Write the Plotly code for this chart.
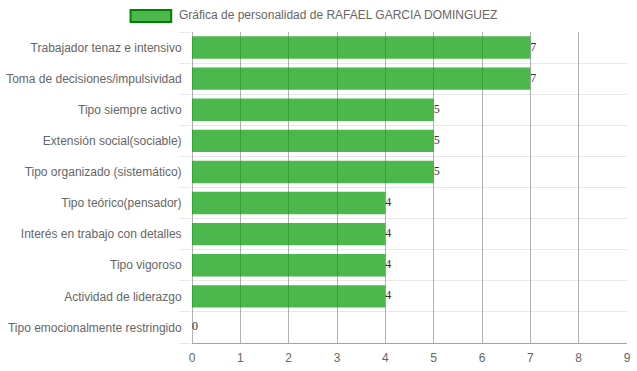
import plotly.graph_objects as go

categories = [
    "Trabajador tenaz e intensivo",
    "Toma de decisiones/impulsividad",
    "Tipo siempre activo",
    "Extensión social(sociable)",
    "Tipo organizado (sistemático)",
    "Tipo teórico(pensador)",
    "Interés en trabajo con detalles",
    "Tipo vigoroso",
    "Actividad de liderazgo",
    "Tipo emocionalmente restringido",
]
values = [7, 7, 5, 5, 5, 4, 4, 4, 4, 0]
x_ticks = [0, 1, 2, 3, 4, 5, 6, 7, 8, 9]
series_name = "Gráfica de personalidad de RAFAEL GARCIA DOMINGUEZ"

W, H = 637, 371
L, R, T, B = 192, 6, 32, 28
PW = W - L - R
PH = H - T - B

def px_x(p):
    return (p - L) / PW

def px_y(p):
    return (H - B - p) / PH

positions = list(range(len(categories)))

fig = go.Figure()
fig.add_trace(go.Bar(
    x=values, y=positions, orientation="h",
    width=0.72,
    marker=dict(color="rgba(0,152,0,0.7)", line=dict(width=0)),
    name=series_name, showlegend=False, hoverinfo="x+y",
))
fig.add_trace(go.Scatter(
    x=values, y=positions, mode="text",
    text=[str(v) for v in values],
    textposition="middle right",
    textfont=dict(family="Liberation Serif", size=12, color="#333333"),
    showlegend=False, hoverinfo="skip", cliponaxis=False,
))

font_family = "Liberation Sans, Arial, sans-serif"

fig.update_layout(
    width=W, height=H,
    margin=dict(l=L, r=R, t=T, b=B, pad=0),
    paper_bgcolor="white", plot_bgcolor="white",
    font=dict(family=font_family, size=12, color="#666666"),
    showlegend=False,
    xaxis=dict(
        range=[0, 9], tickvals=x_ticks, ticktext=[str(t) for t in x_ticks],
        showgrid=True, gridcolor="rgba(0,0,0,0.3)", gridwidth=1,
        zeroline=True, zerolinecolor="rgba(0,0,0,0.3)", zerolinewidth=1,
        showline=True, linecolor="rgba(0,0,0,0.35)", linewidth=1,
        ticks="outside", ticklen=4, tickcolor="rgba(0,0,0,0)",
        tickfont=dict(size=12, color="#666666"),
        fixedrange=True,
    ),
    yaxis=dict(
        range=[len(categories) - 0.5, -0.5],
        tickmode="array", tickvals=positions, ticktext=categories,
        showgrid=False, zeroline=False, showline=False,
        ticks="outside", ticklen=7, tickcolor="rgba(0,0,0,0)",
        tickfont=dict(size=12, color="#666666"),
        minor=dict(
            tickmode="linear", tick0=0.5, dtick=1,
            showgrid=True, gridcolor="rgba(0,0,0,0.09)", gridwidth=1,
            ticks="outside", ticklen=12, tickcolor="rgba(0,0,0,0.09)",
        ),
        fixedrange=True,
    ),
    shapes=[
        dict(type="rect", xref="paper", yref="paper",
             x0=px_x(130), x1=px_x(171), y0=px_y(22), y1=px_y(10),
             fillcolor="rgba(0,152,0,0.7)",
             line=dict(color="#008000", width=2)),
    ],
    annotations=[
        dict(xref="paper", yref="paper", x=px_x(177), y=px_y(15),
             xanchor="left", yanchor="middle", showarrow=False,
             text=series_name,
             font=dict(family=font_family, size=12, color="#666666")),
    ],
)

fig.write_html(
    "out.html",
    config={"displayModeBar": False},
    post_script="document.body.style.margin='0';document.body.style.padding='0';",
)
